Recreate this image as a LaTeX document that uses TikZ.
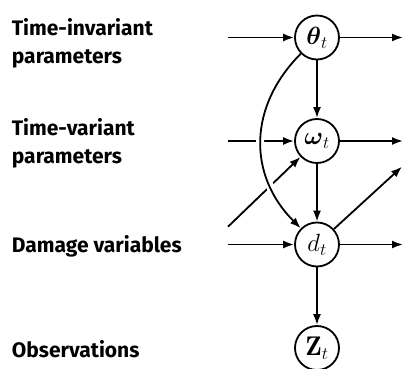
\documentclass[tikz,border=0pt]{standalone}
\usepackage{amsmath}
\usepackage{amssymb}
\usepackage{fontspec}
\usepackage{tikz}
\usetikzlibrary{arrows.meta,positioning}

\newfontfamily\labelfont{Fira Sans}

\begin{document}
\begin{tikzpicture}[
    > = {Latex[length=11pt,width=8pt]},
    node distance = 103.5pt,
    line width = 1.8pt,
    var/.style={circle, draw, minimum size=44pt, inner sep=0pt,
        font=\fontsize{27}{32}\selectfont},
    lbl/.style={anchor=base west, align=left, inner sep=0pt,
        font=\labelfont\bfseries\fontsize{21}{28}\selectfont}
]
    \useasboundingbox (0,0) rectangle (405pt,-369pt);

    % the four variables of one time slice
    \node[var] (theta) at (317pt,-37.5pt) {$\boldsymbol{\theta}_t$};
    \node[var, below of=theta] (omega) {$\boldsymbol{\omega}_t$};
    \node[var, below of=omega] (d) {$d_t$};
    \node[var, below of=d] (z) {$\mathbf{Z}_t$};

    % row names
    \node[lbl] (l-theta) at (11pt,-63.3pt) {Time-invariant\\parameters};
    \node[lbl] (l-omega) at (11pt,-163.3pt) {Time-variant\\parameters};
    \node[lbl] (l-d) at (11pt,-252.7pt) {Damage variables};
    \node[lbl] (l-z) at (11pt,-357.7pt) {Observations};

    % loose ends of the links to the slices before and after
    \coordinate (theta-in) at (228pt,-37.5pt);
    \coordinate (omega-in) at (228pt,-141pt);
    \coordinate (d-in) at (228pt,-244.5pt);
    \coordinate (theta-out) at (403pt,-37.5pt);
    \coordinate (omega-out) at (403pt,-141pt);
    \coordinate (d-out) at (403pt,-244.5pt);
    \coordinate (omega-diag) at (228pt,-226.7pt);
    \coordinate (d-diag) at (402pt,-166.7pt);

    \path[->] (theta-in) edge (theta)
              (omega-in) edge (omega)
              (d-in) edge (d)
              (omega-diag) edge (omega)
              (theta) edge (theta-out)
              (omega) edge (omega-out)
              (d) edge (d-out)
              (d) edge (d-diag)
              (theta) edge (omega)
              (omega) edge (d)
              (d) edge (z);

    % theta feeds the damage directly, drawn over the other links
    \draw[->, preaction={draw=white, line width=8pt, arrows=-,
            shorten <=5pt, shorten >=6pt}]
        (theta) to[out=225, in=135, looseness=1.1] (d);
\end{tikzpicture}
\end{document}
